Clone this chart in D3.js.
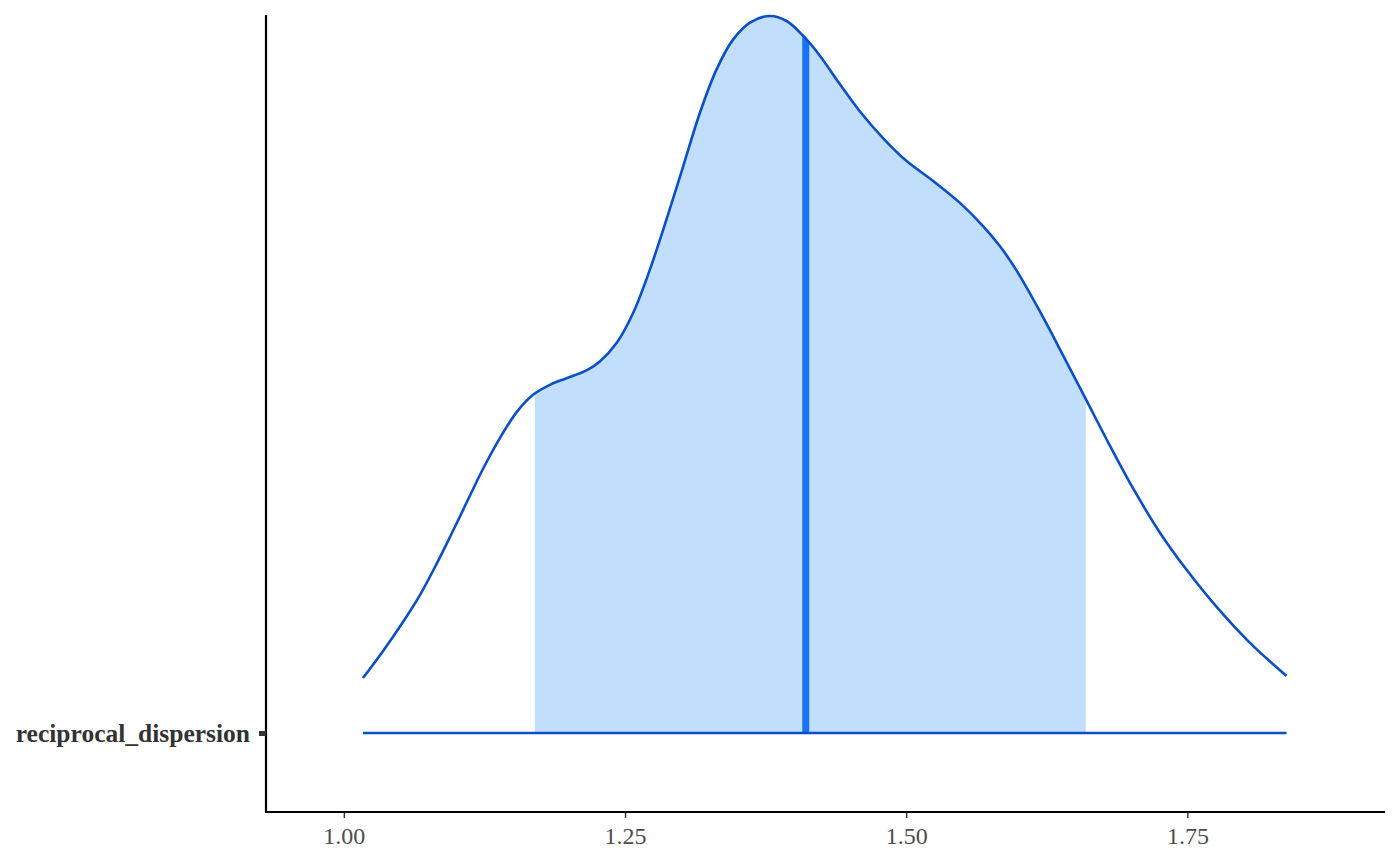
<!DOCTYPE html>
<html>
<head>
<meta charset="utf-8">
<script src="https://cdn.jsdelivr.net/npm/d3@7"></script>
<style>
  html, body { margin: 0; padding: 0; background: #ffffff; }
  svg { display: block; }
</style>
</head>
<body>
<svg id="chart" width="1400" height="866"></svg>
<script>
// ---------- data ----------
const parameter = ["reciprocal_dispersion"];
const densityX = [1.0170, 1.0349, 1.0526, 1.0678, 1.0829, 1.0945, 1.1095, 1.1238, 1.1389, 1.1540,
  1.1682, 1.1832, 1.1980, 1.2158, 1.2276, 1.2425, 1.2573, 1.2721, 1.2869, 1.3018,
  1.3166, 1.3314, 1.3462, 1.3611, 1.3789, 1.3937, 1.4085, 1.4234, 1.4411, 1.4589,
  1.4796, 1.5004, 1.5241, 1.5478, 1.5685, 1.5834, 1.5982, 1.6189, 1.6397, 1.6604,
  1.6811, 1.7019, 1.7256, 1.7493, 1.7760, 1.8056, 1.8382];
const densityY = [0.176, 0.263, 0.356, 0.443, 0.545, 0.629, 0.741, 0.847, 0.946, 1.030,
  1.084, 1.116, 1.137, 1.162, 1.191, 1.250, 1.347, 1.485, 1.646, 1.817,
  1.988, 2.127, 2.223, 2.277, 2.298, 2.282, 2.234, 2.170, 2.079, 1.992,
  1.906, 1.833, 1.769, 1.699, 1.624, 1.560, 1.482, 1.351, 1.209, 1.065,
  0.921, 0.783, 0.642, 0.523, 0.404, 0.289, 0.183];
const intervalInner = [1.1698, 1.6596];   // shaded interval
const medianValue = 1.4107;
const xTicks = [1.00, 1.25, 1.50, 1.75];
const xTickLabels = ["1.00", "1.25", "1.50", "1.75"];

// ---------- layout ----------
const svg = d3.select("#chart");
const panel = { left: 266, right: 1385, top: 15, bottom: 812 };
const baselineY = 733;
const peakY = 16;

const x = d3.scaleLinear().domain([0.9308, 1.9257]).range([panel.left, panel.right]);
const maxD = d3.max(densityY);
const y = d3.scaleLinear().domain([0, maxD]).range([baselineY, peakY]);

const pts = densityX.map((v, i) => ({ x: v, d: densityY[i] }));

const colFill = "#c2defd";
const colLine = "#0b4fc8";
const colMedian = "#1a73f6";

const curve = d3.curveCatmullRom.alpha(0.5);

// clip for interval shading
const defs = svg.append("defs");
defs.append("clipPath").attr("id", "intervalClip")
  .append("rect")
  .attr("x", x(intervalInner[0]))
  .attr("y", 0)
  .attr("width", x(intervalInner[1]) - x(intervalInner[0]))
  .attr("height", 866);

const area = d3.area()
  .x(p => x(p.x))
  .y0(baselineY)
  .y1(p => y(p.d))
  .curve(curve);

defs.append("clipPath").attr("id", "areaClip")
  .append("path").attr("d", area(pts));

// shaded interval
svg.append("path")
  .attr("d", area(pts))
  .attr("fill", colFill)
  .attr("clip-path", "url(#intervalClip)");

// median line (clipped to the density)
svg.append("line")
  .attr("x1", x(medianValue)).attr("x2", x(medianValue))
  .attr("y1", baselineY).attr("y2", 0)
  .attr("stroke", colMedian).attr("stroke-width", 7)
  .attr("clip-path", "url(#areaClip)");

// density outline
const line = d3.line().x(p => x(p.x)).y(p => y(p.d)).curve(curve);
svg.append("path")
  .attr("d", line(pts))
  .attr("fill", "none")
  .attr("stroke", colLine)
  .attr("stroke-width", 2.6)
  .attr("stroke-linejoin", "round");

// baseline
svg.append("line")
  .attr("x1", x(densityX[0])).attr("x2", x(densityX[densityX.length - 1]))
  .attr("y1", baselineY).attr("y2", baselineY)
  .attr("stroke", colLine).attr("stroke-width", 2.6);

// ---------- axes ----------
const xAxis = d3.axisBottom(x)
  .tickValues(xTicks)
  .tickFormat((d, i) => xTickLabels[i])
  .tickSize(6)
  .tickPadding(9);

const gx = svg.append("g").attr("transform", `translate(0,${panel.bottom})`).call(xAxis);
gx.select(".domain").remove();
gx.selectAll(".tick line").attr("stroke", "#333333").attr("stroke-width", 1.4);
gx.selectAll(".tick text")
  .attr("font-family", "'Liberation Serif', 'Times New Roman', serif")
  .attr("font-size", 24)
  .attr("fill", "#4d4d4d");

// axis lines
svg.append("line")
  .attr("x1", panel.left).attr("x2", panel.right)
  .attr("y1", panel.bottom).attr("y2", panel.bottom)
  .attr("stroke", "#000").attr("stroke-width", 2.2);
svg.append("line")
  .attr("x1", panel.left).attr("x2", panel.left)
  .attr("y1", panel.top).attr("y2", panel.bottom + 1.1)
  .attr("stroke", "#000").attr("stroke-width", 2.2);

// y category axis
const yCat = d3.scalePoint().domain(parameter).range([baselineY, baselineY]);
const yAxis = d3.axisLeft(yCat).tickSize(7).tickPadding(9);
const gy = svg.append("g").attr("transform", `translate(${panel.left},0)`).call(yAxis);
gy.select(".domain").remove();
gy.selectAll(".tick line").attr("stroke", "#333333").attr("stroke-width", 5);
gy.selectAll(".tick text")
  .attr("font-family", "'Liberation Serif', 'Times New Roman', serif")
  .attr("font-size", 25.5)
  .attr("font-weight", "bold")
  .attr("fill", "#333333");
</script>
</body>
</html>
